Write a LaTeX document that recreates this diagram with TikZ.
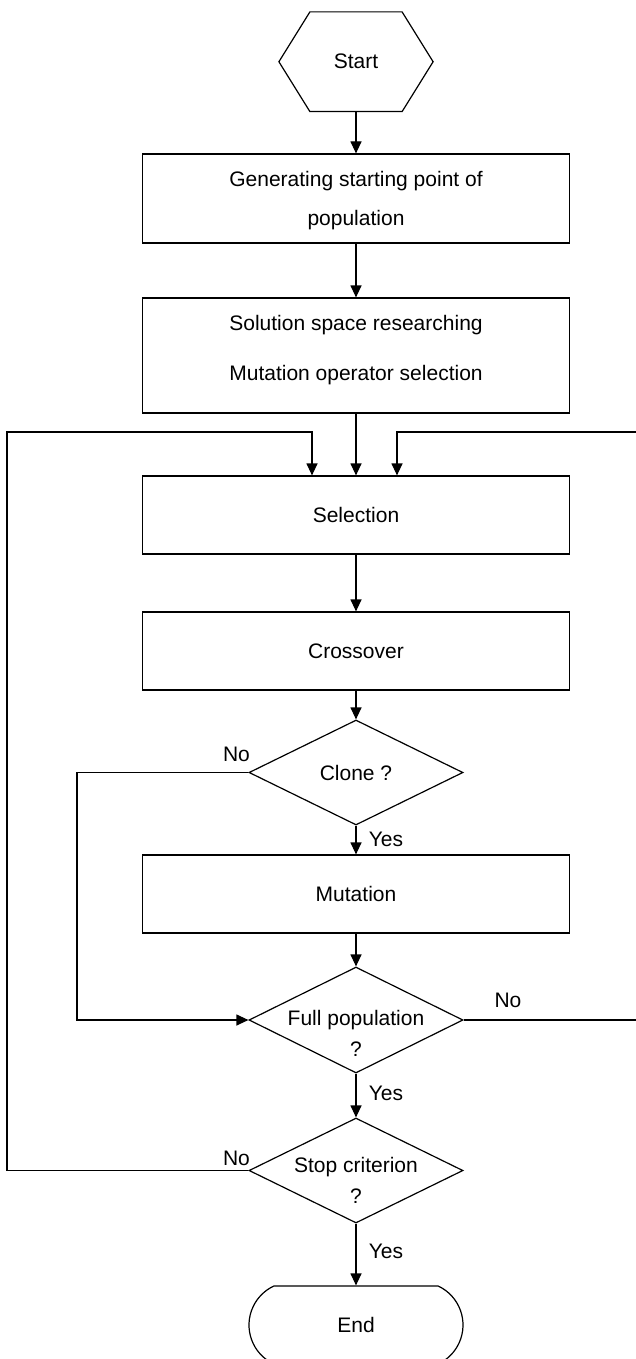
\documentclass[tikz,border=0pt]{standalone}
\usepackage{fontspec}
\setmainfont{Liberation Sans}
\usetikzlibrary{arrows.meta,shapes.geometric,shapes.misc}
\begin{document}
\begin{tikzpicture}[x=1pt,y=-1pt,
  line width=1.2pt,
  arr/.style={-{Triangle[length=12pt,width=11pt]}},
  box/.style={draw, rectangle, minimum width=427pt, inner sep=0pt},
  dia/.style={draw, diamond, minimum width=214pt, minimum height=105pt, inner sep=0pt},
  txt/.style={font=\fontsize{21}{25}\selectfont, inner sep=0pt, align=center},
  lbl/.style={font=\fontsize{21}{25}\selectfont, inner sep=0pt},
  endbox/.style={draw, rounded rectangle, rounded rectangle arc length=130, minimum width=214pt, minimum height=78pt, inner sep=0pt, font=\fontsize{21}{25}\selectfont},
]
\fill[white] (0,0) rectangle (636,1359);
\useasboundingbox (0,0) rectangle (636,1359);
\clip (0,0) rectangle (636,1359);

% Start hexagon
\node[txt, minimum width=153pt, minimum height=98.5pt] (start) at (356,61.75) {Start};
\draw ([xshift=31pt]start.north west) -- ([xshift=-31pt]start.north east) -- (start.east)
  -- ([xshift=-31pt]start.south east) -- ([xshift=31pt]start.south west) -- (start.west) -- cycle;

% boxes
\node[box, minimum height=89pt] (gen) at (356,198.5) {};
\node[txt, font=\fontsize{21}{39}\selectfont] (gentxt) at (356,200.5) {Generating starting point of\\population};

\node[box, minimum height=115pt] (sol) at (356,355.5) {};
\node[txt, font=\fontsize{21}{50}\selectfont] (soltxt) at (356,350.5) {Solution space researching\\Mutation operator selection};

\node[box, minimum height=78pt, font=\fontsize{21}{25}\selectfont] (sel) at (356,515) {Selection};
\node[box, minimum height=78pt, font=\fontsize{21}{25}\selectfont] (cross) at (356,651) {Crossover};

\node[dia] (clone) at (356,772.5) {};
\node[txt] (clonetxt) at (356,772.5) {Clone ?};

\node[box, minimum height=78pt, font=\fontsize{21}{25}\selectfont] (mut) at (356,894) {Mutation};

\node[dia, minimum height=106pt] (full) at (356,1020) {};
\node[txt, font=\fontsize{21}{31}\selectfont] (fulltxt) at (356,1033) {Full population\\?};

\node[dia] (stop) at (356,1170.5) {};
\node[txt, font=\fontsize{21}{31}\selectfont] (stoptxt) at (356,1180) {Stop criterion\\?};

\node[endbox] (end) at (356,1325) {End};

% labels
\node[lbl] (no1) at (236.5,754) {No};
\node[lbl] (yes1) at (386,839) {Yes};
\node[lbl] (no2) at (508,1000) {No};
\node[lbl] (yes2) at (386,1093) {Yes};
\node[lbl] (no3) at (236.5,1158) {No};
\node[lbl] (yes3) at (386,1251) {Yes};

% connectors
\draw[arr] (start.south) -- (gen.north);
\draw[arr] (gen.south) -- (sol.north);
\draw[arr] (sol.south) -- (sel.north);
\draw[arr] (sel.south) -- (cross.north);
\draw[arr] (cross.south) -- (clone.north);
\draw[arr] (clone.south) -- (mut.north);
\draw[arr] (mut.south) -- (full.north);
\draw[arr] (full.south) -- (stop.north);
\draw[arr] (stop.south) -- (end.north);

\coordinate (cl) at (77,772.5);
\draw[arr] (clone.west) -- (cl) |- (full.west);

\coordinate (sl1) at (7,1170.5);
\coordinate (sl2) at (7,432);
\draw[arr] (stop.west) -- (sl1) -- (sl2) -| ([xshift=-44pt]sel.north);

\coordinate (fr1) at (650,1020);
\coordinate (fr2) at (650,432);
\draw[arr] (full.east) -- (fr1) -- (fr2) -| ([xshift=41pt]sel.north);
\end{tikzpicture}
\end{document}
